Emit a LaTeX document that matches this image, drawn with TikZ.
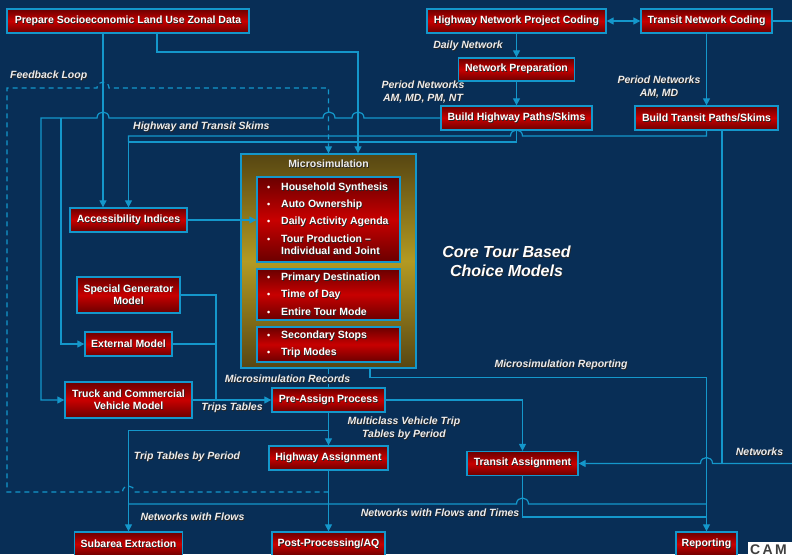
\documentclass[tikz,border=0pt]{standalone}
\usepackage{fontspec}
\setmainfont{Liberation Sans}
\usetikzlibrary{arrows.meta}

\definecolor{bg}{HTML}{082E56}
\definecolor{wire}{HTML}{1497CB}
\definecolor{redhi}{HTML}{C80000}
\definecolor{redlo}{HTML}{6A0000}
\definecolor{goldhi}{HTML}{B39A22}
\definecolor{goldlo}{HTML}{574612}
\definecolor{lbltext}{HTML}{EDEDED}

% white text with a small dark drop shadow
\newcommand\shd[1]{\makebox[0pt][l]{\hspace{0.8pt}\raisebox{-0.8pt}{\textcolor{black!85}{#1}}}#1}

\tikzset{
  redbox/.style={draw=wire, line width=1.3pt, top color=redlo, bottom color=redlo,
    middle color=redhi, text=white, inner sep=0pt, align=center,
    font=\fontsize{10.5}{12.5}\selectfont\bfseries},
  goldbox/.style={draw=wire, line width=1.3pt, top color=goldlo, bottom color=goldlo,
    middle color=goldhi, inner sep=0pt},
  item/.style={anchor=west, inner sep=0pt, text=white,
    font=\fontsize{10.5}{12}\selectfont\bfseries},
  wire/.style={draw=wire, line width=1.2pt},
  arr/.style={wire, -{Triangle[length=7pt,width=7pt]}},
  dblarr/.style={wire, {Triangle[length=7pt,width=7pt]}-{Triangle[length=7pt,width=7pt]}},
  dasharr/.style={arr, dash pattern=on 5pt off 4pt},
  lbl/.style={text=lbltext, inner sep=0pt, align=center,
    font=\fontsize{10.5}{13}\selectfont\bfseries\itshape},
}

\begin{document}
\begin{tikzpicture}[x=1pt, y=-1pt]
\fill[bg] (0,0) rectangle (792,554);
\useasboundingbox (0,0) rectangle (792,554);

% ---------- process boxes ----------
\node[redbox, minimum width=242pt, minimum height=24pt] (prep) at (128,21) {\shd{Prepare Socioeconomic Land Use Zonal Data}};
\node[redbox, minimum width=179pt, minimum height=24pt] (hwycode) at (516.5,21) {\shd{Highway Network Project Coding}};
\node[redbox, minimum width=131pt, minimum height=24pt] (trncode) at (706.5,21) {\shd{Transit Network Coding}};
\node[redbox, minimum width=116pt, minimum height=23pt] (netprep) at (516.5,69.5) {\shd{Network Preparation}};
\node[redbox, minimum width=151pt, minimum height=24pt] (bhwy) at (516.5,118) {\shd{Build Highway Paths/Skims}};
\node[redbox, minimum width=143pt, minimum height=24pt] (btrn) at (706.5,118) {\shd{Build Transit Paths/Skims}};

\node[redbox, minimum width=117pt, minimum height=24pt] (acc) at (128.5,220) {\shd{Accessibility Indices}};
\node[redbox, minimum width=103pt, minimum height=36pt] (sgm) at (128.5,295) {\shd{Special Generator}\\\shd{Model}};
\node[redbox, minimum width=87pt, minimum height=24pt] (ext) at (128.5,344) {\shd{External Model}};
\node[redbox, minimum width=127pt, minimum height=36pt] (truck) at (128.5,400) {\shd{Truck and Commercial}\\\shd{Vehicle Model}};

\node[redbox, minimum width=113pt, minimum height=24pt] (preassign) at (328.5,400) {\shd{Pre-Assign Process}};
\node[redbox, minimum width=119pt, minimum height=24pt] (hwyasg) at (328.5,458) {\shd{Highway Assignment}};
\node[redbox, minimum width=111pt, minimum height=24pt] (trnasg) at (522.5,463.5) {\shd{Transit Assignment}};

\node[redbox, minimum width=108pt, minimum height=24pt] (subarea) at (128.5,544) {\shd{Subarea Extraction}};
\node[redbox, minimum width=113pt, minimum height=24pt] (postproc) at (328.5,544) {\shd{Post-Processing/AQ}};
\node[redbox, minimum width=61pt, minimum height=24pt] (reporting) at (706.5,544) {\shd{Reporting}};

% ---------- microsimulation block ----------
\node[goldbox, minimum width=175pt, minimum height=214pt] (micro) at (328.5,261) {};
\node[text=lbltext, inner sep=0pt, font=\fontsize{10.5}{12}\selectfont\bfseries] (mtitle) at (328.5,164) {\shd{Microsimulation}};
\node[redbox, minimum width=143pt, minimum height=85pt] (m1) at (328.5,219.5) {};
\node[redbox, minimum width=143pt, minimum height=51pt] (m2) at (328.5,294.5) {};
\node[redbox, minimum width=143pt, minimum height=35pt] (m3) at (328.5,344.5) {};

\node[item] (i1) at (267,188) {\makebox[14pt][l]{\small\textbullet}\shd{Household Synthesis}};
\node[item] (i2) at (267,205) {\makebox[14pt][l]{\small\textbullet}\shd{Auto Ownership}};
\node[item] (i3) at (267,222) {\makebox[14pt][l]{\small\textbullet}\shd{Daily Activity Agenda}};
\node[item] (i4) at (267,239) {\makebox[14pt][l]{\small\textbullet}\shd{Tour Production –}};
\node[item] (i4b) at (281,251) {\shd{Individual and Joint}};
\node[item] (i5) at (267,278) {\makebox[14pt][l]{\small\textbullet}\shd{Primary Destination}};
\node[item] (i6) at (267,295) {\makebox[14pt][l]{\small\textbullet}\shd{Time of Day}};
\node[item] (i7) at (267,312) {\makebox[14pt][l]{\small\textbullet}\shd{Entire Tour Mode}};
\node[item] (i8) at (267,336) {\makebox[14pt][l]{\small\textbullet}\shd{Secondary Stops}};
\node[item] (i9) at (267,353) {\makebox[14pt][l]{\small\textbullet}\shd{Trip Modes}};

\node[lbl, text=white, font=\fontsize{16}{19}\selectfont\bfseries\itshape] (core) at (506.5,262) {\shd{Core Tour Based}\\\shd{Choice Models}};

% ---------- connectors: network building ----------
\draw[dblarr] (hwycode.east) -- (trncode.west);
\draw[arr] (hwycode.south) -- (netprep.north);
\draw[arr] (netprep.south) -- (bhwy.north);
\draw[arr] (trncode.south) -- (btrn.north);
\draw[wire] (trncode.east) -- (792,21);

% ---------- connectors: zonal data ----------
\draw[arr] (prep.south -| 103,0) -- (acc.north -| 103,0);
\draw[arr] (prep.south -| 157,0) |- (358,52) -- (micro.north -| 358,0);

% highway and transit skims (with hops)
\draw[arr] (bhwy.west) -- (364,118) .. controls (364,110) and (352,110) .. (352,118)
  -- (335,118) .. controls (335,110) and (323,110) .. (323,118)
  -- (109,118) .. controls (109,110) and (97,110) .. (97,118)
  -- (41,118) |- (truck.west);
\draw[arr] (61,118) |- (ext.west);

\draw[arr] (bhwy.south) |- (acc.north |- 0,142) -- (acc.north);
\draw[wire] (btrn.south) |- (522.5,136) .. controls (522.5,128) and (510.5,128) .. (510.5,136)
  -- (acc.north |- 0,136) -- (acc.north |- 0,142);

\draw[arr] (acc.east) -- (m1.west |- acc.east);

% feedback loop
\draw[dasharr] (hwyasg.south |- 0,492) -- (134.5,492) .. controls (134.5,484) and (122.5,484) .. (122.5,492)
  -- (7,492) -- (7,88) -- (97,88) .. controls (97,80) and (109,80) .. (109,88)
  -- (328.5,88) -- (micro.north);

% ---------- connectors: trip tables ----------
\draw[wire] (micro.south) -- (preassign.north);
\draw[wire] (sgm.east) -| (216,400);
\draw[wire] (ext.east) -- (216,344);
\draw[arr] (truck.east) -- (preassign.west);
\draw[arr] (preassign.east) -| (trnasg.north);
\draw[arr] (preassign.south) -- (hwyasg.north);
\draw[arr] (preassign.south |- 0,430.5) -| (subarea.north);
\draw[arr] (hwyasg.south) -- (postproc.north);

% ---------- connectors: networks and reporting ----------
\draw[wire] (btrn.south -| 722,0) -- (722,463.5);
\draw[arr] (792,463.5) -- (712.5,463.5) .. controls (712.5,455.5) and (700.5,455.5) .. (700.5,463.5) -- (trnasg.east);
\draw[arr] (micro.south -| 370,0) |- (706.5,377.5) -- (reporting.north);
\draw[wire] (subarea.north |- 0,504) -- (516.5,504) .. controls (516.5,496) and (528.5,496) .. (528.5,504)
  -- (reporting.north |- 0,504);
\draw[wire] (trnasg.south) |- (reporting.north |- 0,517);

% ---------- connector labels ----------
\node[lbl, anchor=west] (lfb) at (10,76) {\shd{Feedback Loop}};
\node[lbl, anchor=west] (lskim) at (133,127) {\shd{Highway and Transit Skims}};
\node[lbl] (ldaily) at (468,46) {\shd{Daily Network}};
\node[lbl] (lper1) at (423,92) {\shd{Period Networks}\\\shd{AM, MD, PM, NT}};
\node[lbl] (lper2) at (659,87.5) {\shd{Period Networks}\\\shd{AM, MD}};
\node[lbl, fill=bg, inner sep=1pt] (lrec) at (287.5,379) {\shd{Microsimulation Records}};
\node[lbl] (lrep) at (561,365) {\shd{Microsimulation Reporting}};
\node[lbl] (ltrips) at (232,408) {\shd{Trips Tables}};
\node[lbl] (lmulti) at (404,428.5) {\shd{Multiclass Vehicle Trip}\\\shd{Tables by Period}};
\node[lbl] (lttp) at (187,457) {\shd{Trip Tables by Period}};
\node[lbl] (lnwf) at (192.5,517) {\shd{Networks with Flows}};
\node[lbl] (lnwft) at (440,513) {\shd{Networks with Flows and Times}};
\node[lbl] (lnet) at (759.5,452) {\shd{Networks}};

% ---------- corner logo ----------
\begin{scope}
  \clip (748,541.5) rectangle (792,554);
  \fill[white] (748,541.5) rectangle (792,554);
  \node[anchor=north west, inner sep=0pt, text=black!75, font=\fontsize{14}{14}\selectfont\bfseries] (logo) at (750,545) {C\,A\,M};
\end{scope}
\end{tikzpicture}
\end{document}
